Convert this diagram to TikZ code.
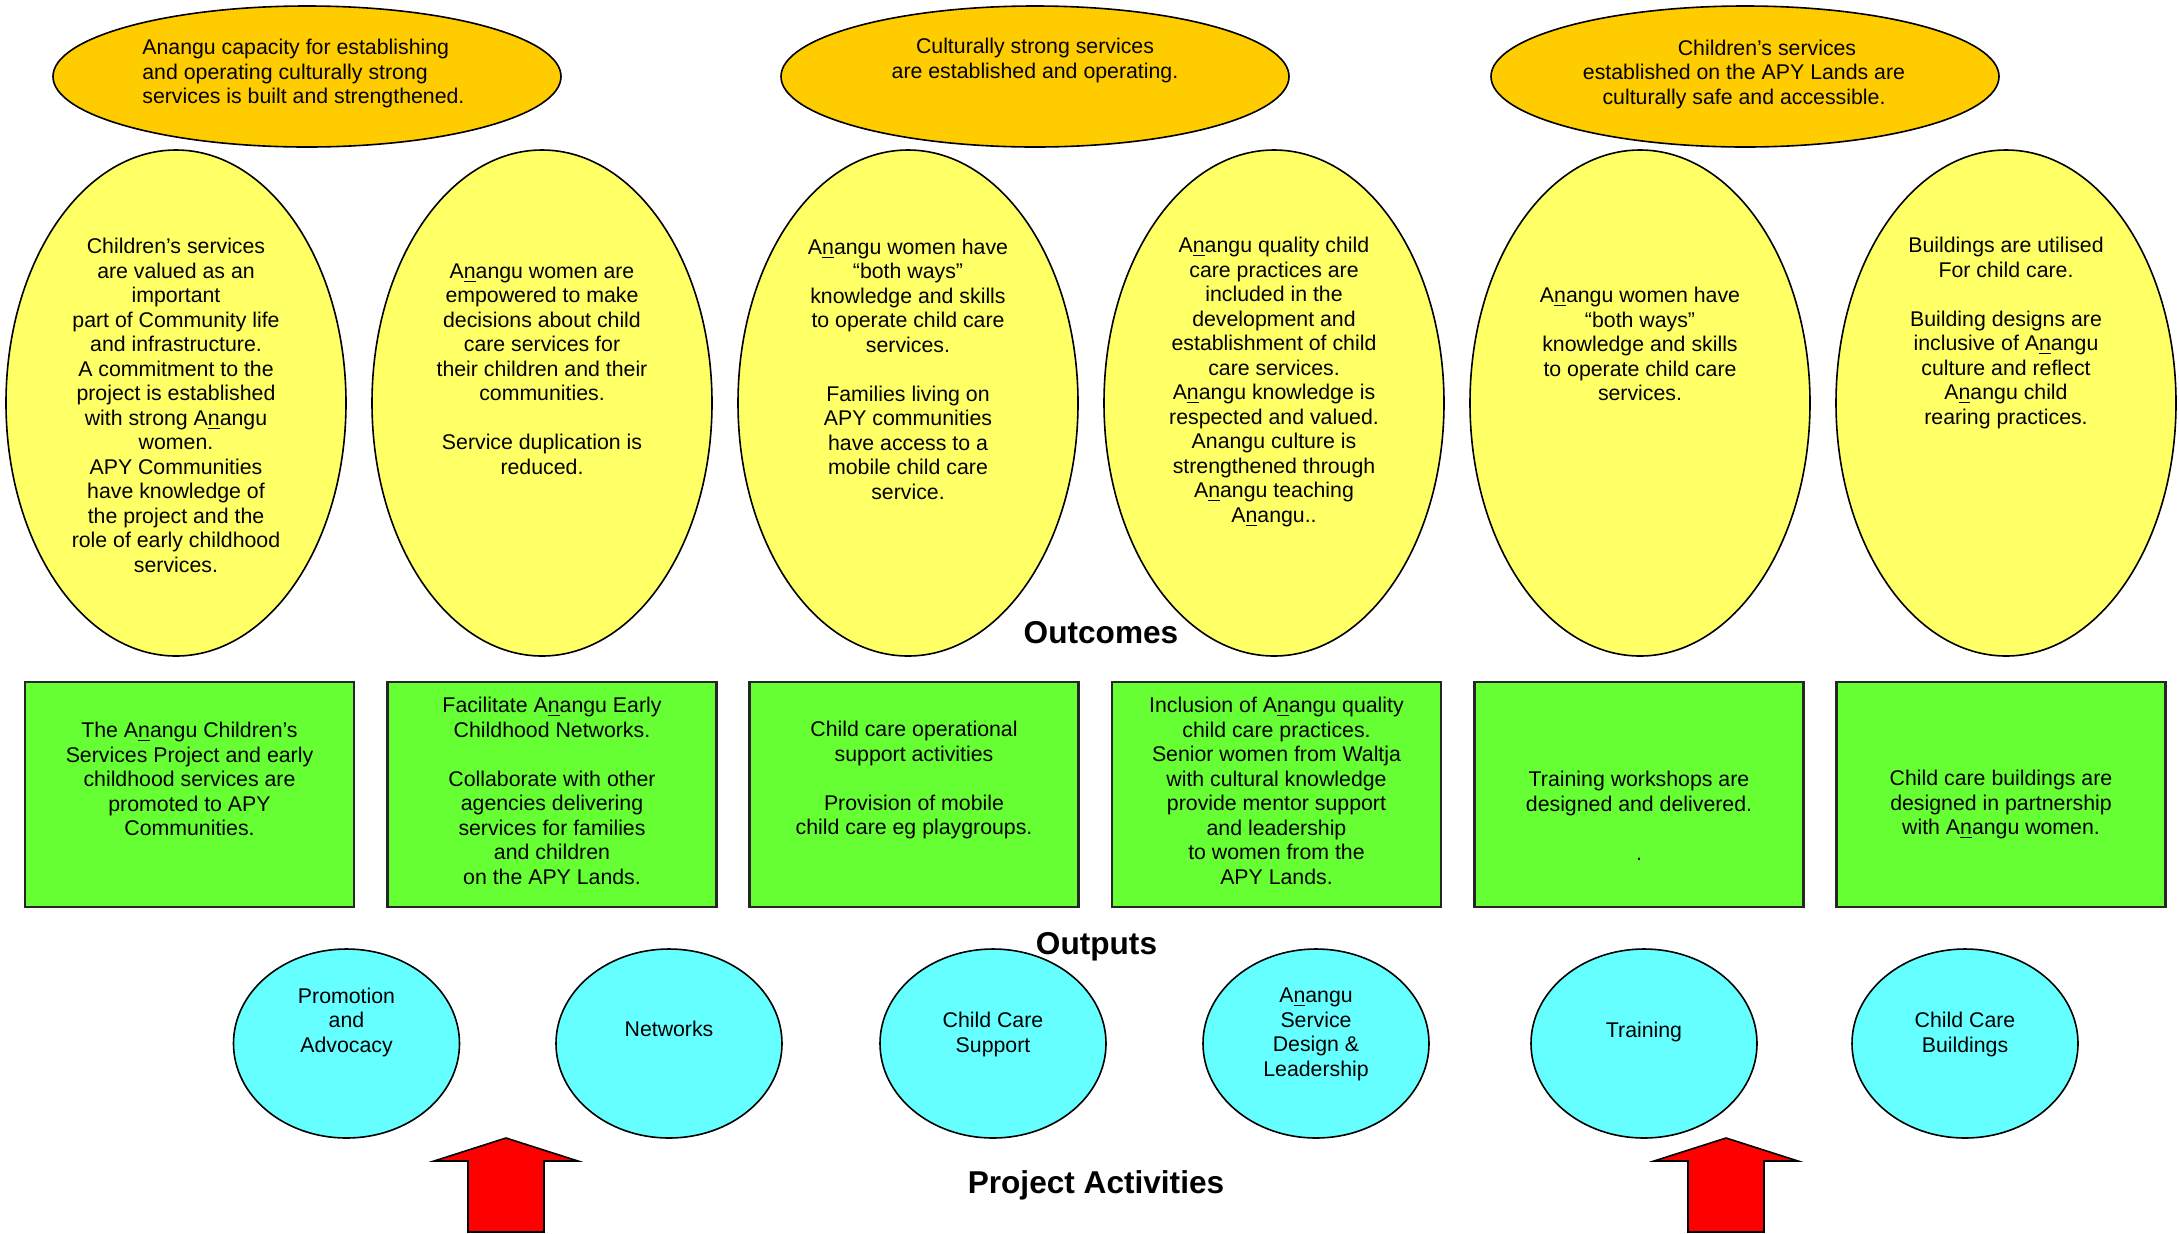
\documentclass[tikz,border=0pt]{standalone}
\usepackage{fontspec}
\setmainfont{Liberation Sans}
\usetikzlibrary{shapes.geometric}

\definecolor{goalorange}{HTML}{FFCC00}
\definecolor{outyellow}{HTML}{FFFF66}
\definecolor{boxgreen}{HTML}{66FF33}
\definecolor{actcyan}{HTML}{66FFFF}

\newcommand{\Anangu}{A\underline{n}angu}
\newcommand{\bodytxt}{\fontsize{10.65pt}{12.25pt}\selectfont}
\newcommand{\headtxt}{\bfseries\fontsize{15.8pt}{18pt}\selectfont}

\tikzset{
	goal/.style={ellipse,draw,fill=goalorange,line width=.8pt,minimum width=254pt,minimum height=70.5pt},
	outcome/.style={ellipse,draw,fill=outyellow,line width=.8pt,minimum width=170pt,minimum height=253pt},
	output/.style={rectangle,draw=black!85,fill=boxgreen,line width=1.2pt,minimum width=164.5pt,minimum height=112.5pt},
	activity/.style={ellipse,draw,fill=actcyan,line width=.8pt,minimum width=113pt,minimum height=94.5pt},
	txt/.style={align=center,inner sep=0pt,font=\bodytxt},
	heading/.style={inner sep=0pt,font=\headtxt},
	uparrow/.style={draw,fill=red,line width=.8pt,line join=miter},
}

\begin{document}
\begin{tikzpicture}[x=.5pt,y=-.5pt]
	\useasboundingbox (0,0) rectangle (2179,1233);
	\begin{scope}
		\foreach \x [count=\i] in {307,1035,1745}
			\node[goal] (g\i) at (\x,76.5) {}
		;
		\node[txt,align=left,anchor=west] (gt1) at (142,73.5)
			{Anangu capacity for establishing\\and operating culturally strong\\services is built and strengthened.};
		\node[txt] (gt2) at (1035,60.5)
			{Culturally strong services\\are established and operating.};
		\node[txt] (gt3) at (1744,74)
			{\hspace*{23pt}Children’s services\\established on the APY Lands are\\culturally safe and accessible.};
	\end{scope}
	\begin{scope}
		\foreach \x [count=\i] in {176,542,908,1274,1640,2006}
			\node[outcome] (oc\i) at (\x,403) {}
		;
		\node[txt] (ot1) at (176,405.5)
			{Children’s services\\are valued as an\\important\\part of Community life\\and infrastructure.\hspace*{17.5pt}\\A commitment to the\\project is established\\with strong \Anangu\\women.\\APY Communities\\have knowledge of\\the project and the\\role of early childhood\\services.};
		\node[txt] (ot2) at (542,369)
			{\Anangu{} women are\\empowered to make\\decisions about child\\care services for\\their children and their\\communities.\\[12.25pt]Service duplication is\\reduced.};
		\node[txt] (ot3) at (908,369)
			{\Anangu{} women have\\“both ways”\\knowledge and skills\\to operate child care\\services.\\[12.25pt]Families living on\\APY communities\\have access to a\\mobile child care\\service.};
		\node[txt] (ot4) at (1274,382)
			{\Anangu{} quality child\\care practices are\\included in the\\development and\\establishment of child\\care services.\\\Anangu{} knowledge is\\respected and valued.\\Anangu culture is\\strengthened through\\\Anangu{} teaching\\\Anangu..};
		\node[txt] (ot5) at (1640,344)
			{\Anangu{} women have\\“both ways”\\knowledge and skills\\to operate child care\\services.};
		\node[txt] (ot6) at (2006,333)
			{Buildings are utilised\\For child care.\\[12.25pt]Building designs are\\inclusive of \Anangu\\culture and reflect\\\Anangu{} child\\rearing practices.};
		\node[heading] (outcomes) at (1101,633) {Outcomes};
	\end{scope}
	\begin{scope}
		\foreach \x [count=\i] in {189.5,552,914,1276.5,1639,2001}
			\node[output] (op\i) at (\x,794.5) {}
		;
		\node[txt] (pt1) at (189.5,779)
			{The \Anangu{} Children’s\\Services Project and early\\childhood services are\\promoted to APY\\Communities.};
		\node[txt] (pt2) at (552,791)
			{Facilitate \Anangu{} Early\\Childhood Networks.\\[12.25pt]Collaborate with other\\agencies delivering\\services for families\\and children\\on the APY Lands.};
		\node[txt] (pt3) at (914,780)
			{Child care operational\\support activities\\[12.25pt]Provision of mobile\\child care eg playgroups.};
		\node[txt] (pt4) at (1276.5,791)
			{Inclusion of \Anangu{} quality\\child care practices.\\Senior women from Waltja\\with cultural knowledge\\provide mentor support\\and leadership\\to women from the\\APY Lands.};
		\node[txt] (pt5) at (1639,816)
			{Training workshops are\\designed and delivered.\\[12.25pt].};
		\node[txt] (pt6) at (2001,804.5)
			{Child care buildings are\\designed in partnership\\with \Anangu{} women.};
		\node[heading] (outputs) at (1096.5,947) {Outputs};
	\end{scope}
	\begin{scope}
		\foreach \x [count=\i] in {346.5,669,993,1316,1644,1965}
			\node[activity] (ac\i) at (\x,1043.5) {}
		;
		\node[txt] (at1) at (346.5,1022) {Promotion\\and\\Advocacy};
		\node[txt] (at2) at (669,1029) {Networks};
		\node[txt] (at3) at (993,1034.5) {Child Care\\Support};
		\node[txt] (at4) at (1316,1034.5) {\Anangu\\Service\\Design \&\\Leadership};
		\node[txt] (at5) at (1644,1032) {Training};
		\node[txt] (at6) at (1965,1034.5) {Child Care\\Buildings};
		\node[heading] (activities) at (1096,1185) {Project Activities};
	\end{scope}
	\begin{scope}
		\foreach \x in {506,1726}
			\draw[uparrow]
				(\x,1138) -- ++(72,23) -- ++(-34,0) -- ++(0,71) -- ++(-76,0) -- ++(0,-71) -- ++(-34,0) -- cycle
			;
	\end{scope}
\end{tikzpicture}
\end{document}
